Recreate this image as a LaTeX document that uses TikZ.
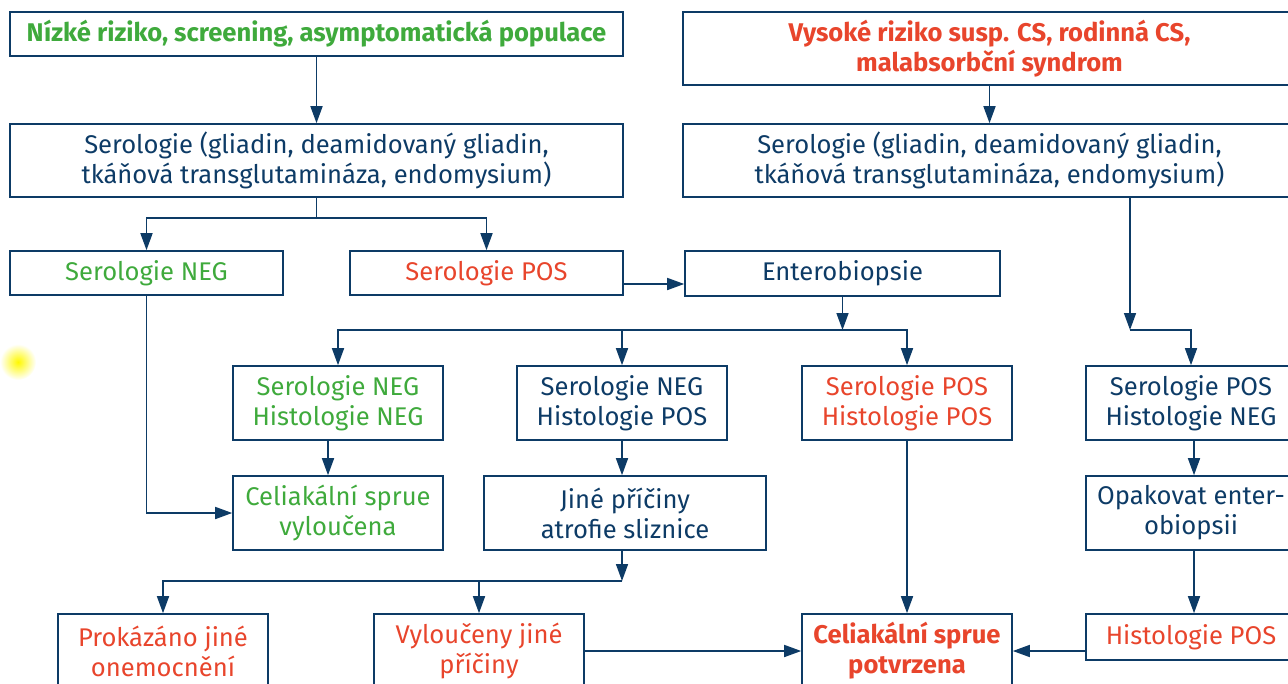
\documentclass[tikz,border=0pt]{standalone}
\usepackage{fontspec}
\setmainfont{Fira Sans}
\usepackage{tikz}
\usetikzlibrary{arrows.meta,positioning}
\definecolor{navy}{HTML}{0D3B66}
\definecolor{grn}{HTML}{3FAA3C}
\definecolor{rd}{HTML}{E8452C}
\begin{document}
\begin{tikzpicture}[>={Triangle[length=8.5pt,width=6pt]},x=0.5pt,y=-0.5pt,color=navy,line width=0.8pt]
\tikzstyle{box}=[draw=navy,line width=0.8pt,inner sep=0pt,align=center,font=\fontsize{12.8}{15}\selectfont]
\tikzstyle{wide}=[box,minimum width=306.5pt,minimum height=36.5pt]
\tikzstyle{cell}=[box,minimum width=105pt,minimum height=37pt]
\tikzstyle{ok}=[text=grn]
\tikzstyle{bad}=[text=rd]
\useasboundingbox (0,0) rectangle (1288,684);
\clip (0,0) rectangle (1288,684);
\shade[inner color=yellow!95!orange,outer color=white] (18,362) circle (9pt);
\node[wide,ok,minimum height=22pt,font=\fontsize{12.8}{15}\selectfont\bfseries] (NR) at (316.5,34) {Nízké riziko, screening, asymptomatická populace};
\node[wide,bad,font=\fontsize{12.8}{15}\selectfont\bfseries] (VR) at (989.5,48.5) {Vysoké riziko susp. CS, rodinná CS,\\malabsorbční syndrom};
\node[wide] (SL) at (316.5,160.5) {Serologie (gliadin, deamidovaný gliadin,\\tkáňová transglutamináza, endomysium)};
\node[wide] (SR) at (989.5,160.5) {Serologie (gliadin, deamidovaný gliadin,\\tkáňová transglutamináza, endomysium)};
\node[box,ok,minimum width=136.5pt,minimum height=22pt] (SN) at (146.5,273) {Serologie NEG};
\node[box,bad,minimum width=136.5pt,minimum height=22pt] (SP) at (486.5,273) {Serologie POS};
\node[box,minimum width=157.5pt,minimum height=22.5pt] (EB) at (842.5,273.5) {Enterobiopsie};
\node[cell,ok] (NN) at (338,403) {Serologie NEG\\Histologie NEG};
\node[cell] (NP) at (622,403) {Serologie NEG\\Histologie POS};
\node[cell,bad] (PP) at (907,403) {Serologie POS\\Histologie POS};
\node[cell] (PN) at (1191,403) {Serologie POS\\Histologie NEG};
\node[cell,ok] (CV) at (338,513) {Celiakální sprue\\vyloučena};
\node[cell,minimum width=141pt] (JP) at (625,513) {Jiné příčiny\\atrofie sliznice};
\node[cell] (OE) at (1191,513) {Opakovat enter-\\obiopsii};
\node[cell,bad] (PO) at (163,651) {Prokázáno jiné\\onemocnění};
\node[cell,bad] (VJ) at (479,651) {Vyloučeny jiné\\příčiny};
\node[cell,bad,font=\fontsize{12.8}{15}\selectfont\bfseries] (CP) at (907,651) {Celiakální sprue\\potvrzena};
\node[cell,bad,minimum height=23pt] (HP) at (1191,637) {Histologie POS};
\coordinate (s1) at (316.5,218);
\coordinate (e1) at (842.5,330);
\coordinate (d1) at (1130,330);
\coordinate (j1) at (622,581);
\draw[->] (NR) -- (SL);
\draw[->] (VR) -- (SR);
\draw (SL) -- (s1);
\draw[->] (s1) -| (SN);
\draw[->] (s1) -| (SP);
\draw[->] ([yshift=-5.5pt]SP.east) -- ([yshift=-5.5pt]SP.east -| EB.west);
\draw[->] (EB) -- (e1);
\draw[->] (d1 |- SR.south) -- (d1);
\draw[->] (e1) -| (NN);
\draw[->] (e1) -| (NP);
\draw[->] (e1) -| (PP);
\draw[->] (d1) -| (PN);
\draw[->] ([xshift=-5pt]NN.south) -- ([xshift=-5pt]CV.north);
\draw[->] (SN) |- (CV);
\draw[->] (NP) -- (NP.south |- JP.north);
\draw[->] ([xshift=1.5pt]PN.south) -- ([xshift=1.5pt]OE.north);
\draw[->] (j1 |- JP.south) -- (j1);
\draw[->] (j1) -| (PO);
\draw[->] (j1) -| (VJ);
\draw[->] (PP) -- (CP);
\draw[->] ([xshift=1.5pt]OE.south) -- ([xshift=1.5pt]HP.north);
\draw[->] (VJ) -- (CP);
\draw[->] (CP.east -| HP.west) -- (CP.east);
\end{tikzpicture}
\end{document}
